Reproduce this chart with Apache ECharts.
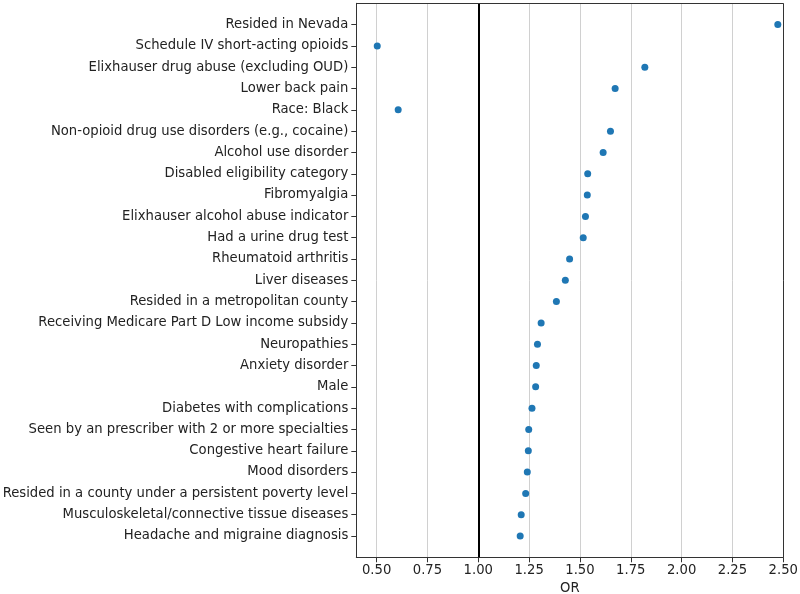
<!DOCTYPE html>
<html>
<head>
<meta charset="utf-8">
<script src="https://cdn.jsdelivr.net/npm/echarts@6/dist/echarts.min.js"></script>
<style>html,body{margin:0;padding:0;background:#fff}#c{width:800px;height:594px}</style>
</head>
<body>
<div id="c"></div>
<script>
const categories = [
  "Resided in Nevada",
  "Schedule IV short-acting opioids",
  "Elixhauser drug abuse (excluding OUD)",
  "Lower back pain",
  "Race: Black",
  "Non-opioid drug use disorders (e.g., cocaine)",
  "Alcohol use disorder",
  "Disabled eligibility category",
  "Fibromyalgia",
  "Elixhauser alcohol abuse indicator",
  "Had a urine drug test",
  "Rheumatoid arthritis",
  "Liver diseases",
  "Resided in a metropolitan county",
  "Receiving Medicare Part D Low income subsidy",
  "Neuropathies",
  "Anxiety disorder",
  "Male",
  "Diabetes with complications",
  "Seen by an prescriber with 2 or more specialties",
  "Congestive heart failure",
  "Mood disorders",
  "Resided in a county under a persistent poverty level",
  "Musculoskeletal/connective tissue diseases",
  "Headache and migraine diagnosis"
];
const orValues = [2.473, 0.503, 1.819, 1.673, 0.606, 1.650, 1.614, 1.538, 1.536, 1.527, 1.516, 1.449, 1.428, 1.384, 1.309, 1.291, 1.285, 1.282, 1.264, 1.248, 1.246, 1.241, 1.233, 1.211, 1.206];
const xTicks = [0.5, 0.75, 1.0, 1.25, 1.5, 1.75, 2.0, 2.25, 2.5];
const refLine = 1.0;

const rowIdx = categories.map((_, i) => i);
const font = "DejaVu Sans";
const fs = 13.2;
const chart = echarts.init(document.getElementById('c'), null, {renderer: 'canvas'});
chart.setOption({
  animation: false,
  grid: {left: 356.3, right: 16.7, top: 3.3, bottom: 36.7, containLabel: false, outerBoundsMode: 'none'},
  xAxis: {
    type: 'value', min: 0.4, max: 2.5,
    name: 'OR', nameLocation: 'middle', nameGap: 23,
    nameTextStyle: {fontFamily: font, fontSize: fs, color: '#222'},
    axisLine: {show: true, onZero: false, lineStyle: {color: '#333', width: 1}},
    axisTick: {show: true, customValues: xTicks, length: 5, lineStyle: {color: '#333'}},
    axisLabel: {customValues: xTicks, margin: 7, fontFamily: font, fontSize: fs, color: '#222',
      formatter: v => v.toFixed(2)},
    splitLine: {show: true, lineStyle: {color: '#d0d0d0', width: 1}}
  },
  yAxis: {
    type: 'value', min: -1, max: 25, inverse: true,
    axisLine: {show: true, onZero: false, lineStyle: {color: '#333', width: 1}},
    axisTick: {show: true, customValues: rowIdx, length: 5, lineStyle: {color: '#333'}},
    axisLabel: {customValues: rowIdx, margin: 8, fontFamily: font, fontSize: fs, color: '#222',
      formatter: v => categories[Math.round(v)] || ''},
    splitLine: {show: false}
  },
  series: [
    {
      type: 'scatter',
      data: orValues.map((v, i) => [v, i]),
      symbolSize: 7,
      itemStyle: {color: '#1f77b4', opacity: 1},
      markLine: {
        silent: true, symbol: 'none', label: {show: false},
        lineStyle: {color: '#000', width: 2, type: 'solid'},
        data: [{xAxis: refLine}]
      }
    },
    {
      type: 'line', data: [], xAxisIndex: 0, yAxisIndex: 0,
      markLine: {
        silent: true, symbol: 'none', label: {show: false},
        lineStyle: {color: '#333', width: 1, type: 'solid'},
        data: [{yAxis: -1}, {xAxis: 2.5}]
      }
    }
  ]
});
</script>
</body>
</html>
